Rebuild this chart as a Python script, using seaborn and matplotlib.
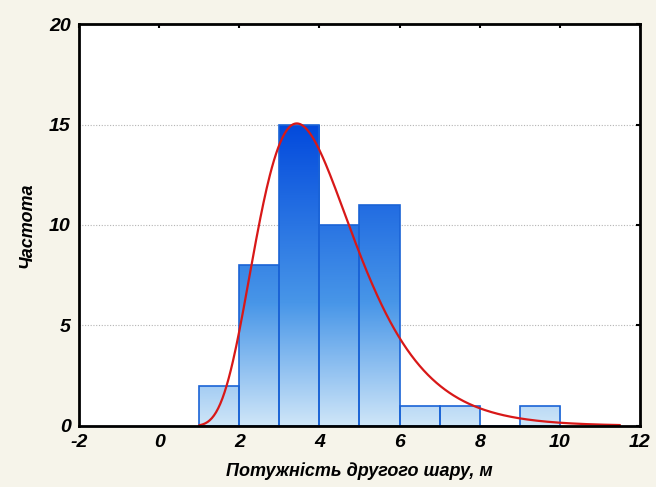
import numpy as np
import seaborn as sns
import matplotlib.pyplot as plt
from matplotlib.colors import LinearSegmentedColormap

# histogram of layer thickness: bin edges and counts
BIN_EDGES = [1, 2, 3, 4, 5, 6, 7, 8, 9, 10]
COUNTS = [2, 8, 15, 10, 11, 1, 1, 0, 1]

# fitted log-normal curve (parameters)
N_OBS = 49
LOGN_MU = 1.36
LOGN_SIGMA = 0.355
CURVE_RANGE = (1.0, 11.5)

X_TICKS = [-2, 0, 2, 4, 6, 8, 10, 12]
Y_TICKS = [0, 5, 10, 15, 20]
X_LABEL = "Потужність другого шару, м"
Y_LABEL = "Частота"

sns.set_style("white")
plt.rcParams['font.family'] = ['Liberation Sans', 'DejaVu Sans']
plt.rcParams['axes.unicode_minus'] = False
plt.rcParams['text.color'] = 'black'
plt.rcParams['axes.labelcolor'] = 'black'
plt.rcParams['xtick.color'] = 'black'
plt.rcParams['ytick.color'] = 'black'

fig = plt.figure(figsize=(6.56, 4.87), dpi=100, facecolor='#f6f4ea')
ax = fig.add_axes([0.1204, 0.1253, 0.8552, 0.8254])
ax.set_facecolor('white')

centers = [(a + b) / 2 for a, b in zip(BIN_EDGES[:-1], BIN_EDGES[1:])]
sns.histplot(x=centers, weights=COUNTS, bins=BIN_EDGES, fill=False,
             color='#1a63d6', linewidth=1.2, ax=ax, zorder=3)

# vertical gradient fill inside each bar
cmap = LinearSegmentedColormap.from_list(
    'bars', [(0.0, '#cfe6f8'), (0.4, '#4896e8'), (1.0, '#0047dc')])
grad = np.linspace(0, 1, 256).reshape(-1, 1)
for p in list(ax.patches):
    if p.get_height() <= 0:
        continue
    x0, w = p.get_x(), p.get_width()
    im = ax.imshow(grad, extent=(x0, x0 + w, 0, 15.3), origin='lower',
                   cmap=cmap, aspect='auto', zorder=2)
    im.set_clip_path(p)

xs = np.linspace(CURVE_RANGE[0], CURVE_RANGE[1], 400)
ys = N_OBS * np.exp(-(np.log(xs) - LOGN_MU) ** 2 / (2 * LOGN_SIGMA ** 2)) \
    / (xs * LOGN_SIGMA * np.sqrt(2 * np.pi))
sns.lineplot(x=xs, y=ys, color='#d81818', linewidth=1.6, ax=ax, zorder=4)

ax.set_xlim(-2, 12)
ax.set_ylim(0, 20)
ax.set_xticks(X_TICKS)
ax.set_yticks(Y_TICKS)
ax.set_axisbelow(True)
ax.yaxis.grid(True, linestyle=(0, (1, 1.5)), color='#b4b4b4', linewidth=0.8)
ax.xaxis.grid(False)

for s in ax.spines.values():
    s.set_color('black')
    s.set_linewidth(2)
    s.set_zorder(5)
ax.tick_params(direction='in', length=3, width=1.5, top=True, right=True,
               labelsize=14, pad=6)
for lab in ax.get_xticklabels() + ax.get_yticklabels():
    lab.set_fontweight('bold')
    lab.set_fontstyle('italic')

ax.set_xlabel(X_LABEL, fontsize=13, fontweight='bold', fontstyle='italic',
              labelpad=8)
ax.set_ylabel(Y_LABEL, fontsize=13, fontweight='bold', fontstyle='italic',
              labelpad=10)

fig.savefig('out.png', dpi=100, facecolor=fig.get_facecolor())
